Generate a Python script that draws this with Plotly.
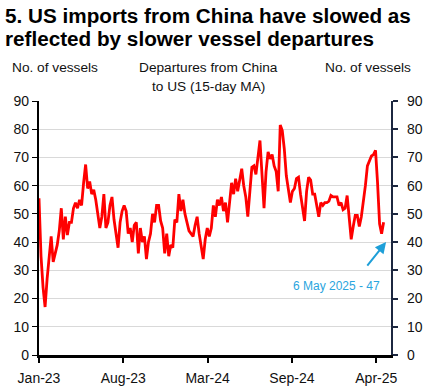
import pandas as pd
import plotly.graph_objects as go

# 15-day MA of vessel departures from China to US (~5-day spacing)
start_date = "2023-01-15"
end_date = "2025-05-06"
departures = [
    55.5, 35, 24, 17, 27, 35, 42, 33, 36, 39, 44, 52, 41, 49, 42.5, 47, 47, 52, 54, 52,
    55, 53, 61, 67.5, 59, 61.5, 57, 58.5, 55, 50, 45, 49, 57, 45, 47, 53, 56, 48, 43, 38,
    47, 51, 53, 51,
    43, 45, 40, 46, 47, 36, 45, 40, 42, 34, 40, 43, 50, 47, 53, 53, 47.5, 45, 36, 43,
    35, 39, 38, 48, 47, 57, 51, 55, 50, 46.5, 44, 43, 42, 46, 49, 43, 38, 34, 41, 45,
    42, 45, 53,
    49, 55, 53, 56, 51, 54, 47, 54, 61, 57, 62.5, 58, 62, 66, 60, 56, 49, 59, 66.5, 67,
    64, 70, 76, 64, 52, 65, 72, 69.5, 71, 67, 65, 58, 81.5, 79.5, 73, 63.5, 58.5, 54, 58,
    59, 62.5, 63, 57,
    53, 47.5, 58, 63, 62, 57, 57, 53, 49, 54, 53, 54, 54, 54.5, 56.5, 56, 56, 56, 53, 54,
    51.5, 52, 56.5, 48, 41, 45.5, 49.5, 49.5, 45.5, 49, 54, 60, 67, 68.5, 70.5, 71, 72.5,
    61, 46.5, 43,
    47,
]
dates = pd.date_range(start_date, end_date, periods=len(departures))

tick_vals = ["2023-01-15", "2023-08-09", "2024-03-02", "2024-09-24", "2025-04-18"]
tick_text = ["Jan-23", "Aug-23", "Mar-24", "Sep-24", "Apr-25"]
y_ticks = [0, 10, 20, 30, 40, 50, 60, 70, 80, 90]

last_label = "6 May 2025 - 47"

FONT = "Liberation Sans, Arial, sans-serif"
TXT = "#111111"

fig = go.Figure()
fig.add_trace(go.Scatter(x=dates, y=departures, mode="lines",
                         line=dict(color="#ff0000", width=2.8), showlegend=False,
                         hoverinfo="skip"))
fig.add_trace(go.Scatter(x=[dates[0]], y=[0], yaxis="y2", mode="markers",
                         marker=dict(opacity=0), showlegend=False, hoverinfo="skip"))

W, H = 424, 392
L, R, T, B = 39, 391, 101, 355


def px(xp):
    return (xp - L) / (R - L)


def py(yp):
    return (B - yp) / (B - T)


anns = [
    dict(text="<b>5. US imports from China have slowed as</b>", x=px(3), y=py(16),
         xanchor="left", yanchor="middle", font=dict(family=FONT, size=20.7, color="#000")),
    dict(text="<b>reflected by slower vessel departures</b>", x=px(3), y=py(38),
         xanchor="left", yanchor="middle", font=dict(family=FONT, size=20.7, color="#000")),
    dict(text="No. of vessels", x=px(10), y=py(67), xanchor="left", yanchor="middle",
         font=dict(family=FONT, size=13.7, color=TXT)),
    dict(text="No. of vessels", x=px(413), y=py(67), xanchor="right", yanchor="middle",
         font=dict(family=FONT, size=13.7, color=TXT)),
    dict(text="Departures from China", x=px(208.6), y=py(67), xanchor="center",
         yanchor="middle", font=dict(family=FONT, size=13.7, color=TXT)),
    dict(text="to US (15-day MA)", x=px(208.6), y=py(86), xanchor="center",
         yanchor="middle", font=dict(family=FONT, size=13.7, color=TXT)),
    dict(text=last_label, x=px(336), y=py(286), xanchor="center", yanchor="middle",
         font=dict(family=FONT, size=12, color="#2aa5de")),
]
for a in anns:
    a.update(xref="paper", yref="paper", showarrow=False)

anns.append(dict(x="2025-05-12", y=40, xref="x", yref="y", text="", showarrow=True,
                 ax=-20, ay=25, arrowhead=2, arrowsize=1.1, arrowwidth=2,
                 arrowcolor="#1e9fd8", standoff=0))

fig.update_layout(
    width=W, height=H,
    margin=dict(l=L, r=W - R, t=T, b=H - B),
    paper_bgcolor="white", plot_bgcolor="white",
    annotations=anns,
    xaxis=dict(range=["2023-01-15", "2025-05-24"], tickmode="array",
               tickvals=tick_vals, ticktext=tick_text, showgrid=False,
               showline=True, linecolor="#000", linewidth=2.5,
               ticks="outside", ticklen=5, tickwidth=2, tickcolor="#000",
               ticklabelstandoff=3, automargin=False,
               tickfont=dict(family=FONT, size=14, color=TXT), zeroline=False),
    yaxis=dict(range=[0, 90], tickvals=y_ticks, showgrid=True, gridcolor="#d9d9d9",
               gridwidth=1, showline=True, linecolor="#000", linewidth=2.2,
               ticks="outside", ticklen=5, tickcolor="#000", zeroline=False,
               automargin=False,
               tickfont=dict(family=FONT, size=14, color=TXT)),
    yaxis2=dict(range=[0, 90], tickvals=y_ticks, overlaying="y", side="right",
                showgrid=False, showline=True, linecolor="#1c2740", linewidth=2.2,
                ticks="outside", ticklen=5, tickwidth=2, tickcolor="#1c2740",
                zeroline=False, ticklabelstandoff=6, automargin=False,
                tickfont=dict(family=FONT, size=14, color=TXT)),
)

fig.write_html("out.html", config={"displayModeBar": False},
               post_script="document.body.style.margin='0';")
